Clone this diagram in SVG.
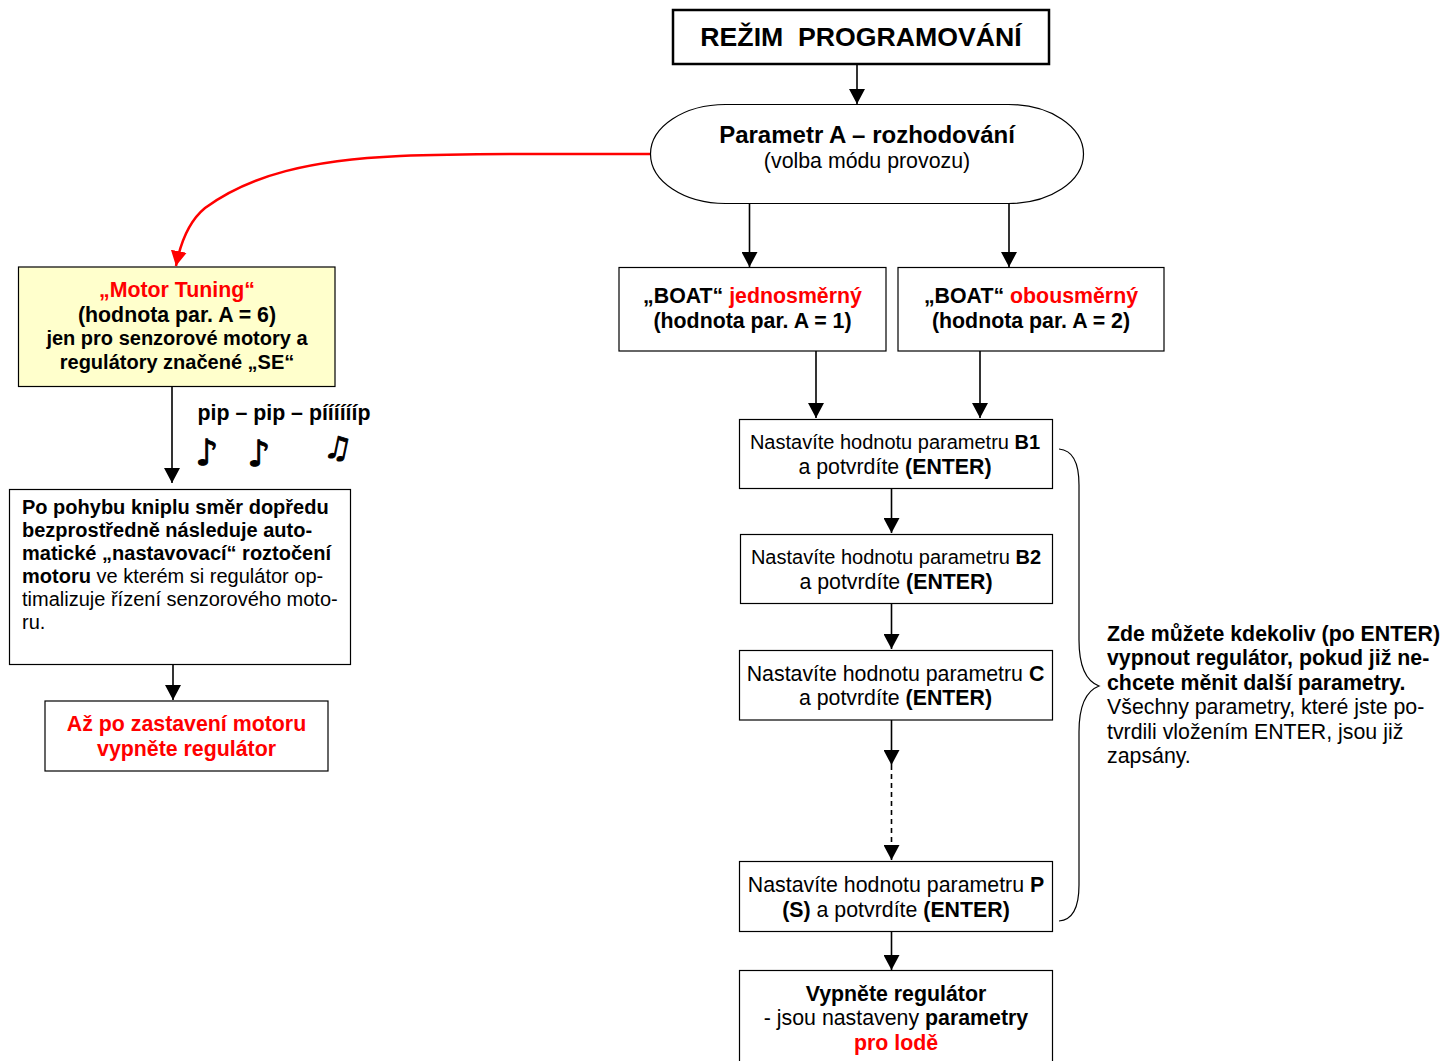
<svg xmlns="http://www.w3.org/2000/svg" width="1442" height="1061" viewBox="0 0 1442 1061">
<style>
text{font-family:"Liberation Sans",Arial,sans-serif;font-size:21.330px;fill:#000;text-anchor:middle}
.s{font-size:20px}
.l{text-anchor:start}
.b{font-weight:bold}
.r{fill:#f00}
.n{font-family:"DejaVu Sans",sans-serif;font-size:36px;stroke:#000;stroke-width:1}
.box{fill:#fff;stroke:#000;stroke-width:1.200}
.c{fill:none;stroke:#000;stroke-width:1.600}
</style>
<defs>
<marker id="a" markerUnits="userSpaceOnUse" markerWidth="16" markerHeight="16" refX="15" refY="8" orient="auto"><path d="M0,0L15,8L0,16Z" fill="#000"/></marker>
<marker id="ar" markerUnits="userSpaceOnUse" markerWidth="16" markerHeight="16" refX="15" refY="8" orient="auto"><path d="M0,0L15,8L0,16Z" fill="#f00"/></marker>
</defs>
<g id="connectors">
<path class="c" d="M857,65V104" marker-end="url(#a)"/>
<path class="c" d="M749.500,204V267" marker-end="url(#a)"/>
<path class="c" d="M1009,204V267" marker-end="url(#a)"/>
<path class="c" d="M816,351V418" marker-end="url(#a)"/>
<path class="c" d="M980,351V418" marker-end="url(#a)"/>
<path class="c" d="M891.500,489V533" marker-end="url(#a)"/>
<path class="c" d="M891.500,604V649" marker-end="url(#a)"/>
<path class="c" d="M891.500,720V765" marker-end="url(#a)"/>
<path class="c" d="M891.500,765V860" stroke-dasharray="5 4" marker-end="url(#a)"/>
<path class="c" d="M891.500,932V970" marker-end="url(#a)"/>
<path class="c" d="M172,387V483" marker-end="url(#a)"/>
<path class="c" d="M173,665V700" marker-end="url(#a)"/>
<path d="M650,154C560,154 480,153 400,156C310,160 250,175 205,208C188,222 180,245 176,266" fill="none" stroke="#f00" stroke-width="2.500" marker-end="url(#ar)"/>
<path d="M1059,449C1072,450 1079,462 1079,485V640C1079,665 1086,681 1099,686C1086,691 1079,707 1079,732V885C1079,908 1072,920 1059,921" fill="none" stroke="#000" stroke-width="1.200"/>
</g>
<g id="title"><rect x="673" y="10" width="376" height="54" class="box" style="stroke-width:2.500"/><text x="861" y="46" class="b" style="font-size:26.660px" xml:space="preserve">REŽIM  PROGRAMOVÁNÍ</text></g>
<g id="paramA"><rect x="650.500" y="104.500" width="433" height="99" rx="75" ry="49.500" class="box"/><text x="867" y="143" class="b" style="font-size:24px">Parametr A – rozhodování</text><text x="867" y="168">(volba módu provozu)</text></g>
<g id="boat1"><rect x="619" y="267.500" width="267" height="83.500" class="box"/><text x="752.500" y="303" class="b">„BOAT“ <tspan class="r">jednosměrný</tspan></text><text x="752.500" y="328" class="b">(hodnota par. A = 1)</text></g>
<g id="boat2"><rect x="898" y="267.500" width="266" height="83.500" class="box"/><text x="1031" y="303" class="b">„BOAT“ <tspan class="r">obousměrný</tspan></text><text x="1031" y="328" class="b">(hodnota par. A = 2)</text></g>
<g id="tuning"><rect x="18.500" y="267" width="316.500" height="119.500" style="fill:#ffffcc;stroke:#000;stroke-width:1.200"/><text x="177" y="297" class="b r">„Motor Tuning“</text><text x="177" y="322" class="b">(hodnota par. A = 6)</text><text x="177" y="345" class="b s">jen pro senzorové motory a</text><text x="177" y="369" class="b s">regulátory značené „SE“</text></g>
<g id="pip"><text x="284" y="420" class="b">pip – pip – pííííííp</text><text x="207" y="465" class="n">♪</text><text x="259" y="466" class="n">♪</text><text class="n" transform="translate(336 458) skewX(-12)" style="font-size:30px">♫</text></g>
<g id="knipl"><rect x="9.500" y="489.500" width="341" height="175" class="box"/>
<text class="l b s" x="22" y="514">Po pohybu kniplu směr dopředu</text>
<text class="l b s" x="22" y="537">bezprostředně následuje auto-</text>
<text class="l b s" x="22" y="560">matické „nastavovací“ roztočení</text>
<text class="l s" x="22" y="583"><tspan class="b">motoru</tspan> ve kterém si regulátor op-</text>
<text class="l s" x="22" y="606">timalizuje řízení senzorového moto-</text>
<text class="l s" x="22" y="629">ru.</text></g>
<g id="stop"><rect x="45" y="701" width="283" height="70" class="box"/><text x="186.500" y="731" class="b r">Až po zastavení motoru</text><text x="186.500" y="756" class="b r">vypněte regulátor</text></g>
<g id="b1"><rect x="739.500" y="419.500" width="313" height="69" class="box"/><text x="895" y="449" class="s">Nastavíte hodnotu parametru <tspan class="b">B1</tspan></text><text x="895" y="474">a potvrdíte <tspan class="b">(ENTER)</tspan></text></g>
<g id="b2"><rect x="740.500" y="534.500" width="312" height="69" class="box"/><text x="896" y="564" class="s">Nastavíte hodnotu parametru <tspan class="b">B2</tspan></text><text x="896" y="589">a potvrdíte <tspan class="b">(ENTER)</tspan></text></g>
<g id="c"><rect x="739.500" y="650.500" width="313" height="69.500" class="box"/><text x="895.500" y="681">Nastavíte hodnotu parametru <tspan class="b">C</tspan></text><text x="895.500" y="705">a potvrdíte <tspan class="b">(ENTER)</tspan></text></g>
<g id="p"><rect x="739.500" y="861.500" width="313" height="70" class="box"/><text x="896" y="892">Nastavíte hodnotu parametru <tspan class="b">P</tspan></text><text x="896" y="917"><tspan class="b">(S)</tspan> a potvrdíte <tspan class="b">(ENTER)</tspan></text></g>
<g id="end"><rect x="739.500" y="970.500" width="313" height="100" class="box"/><text x="896" y="1001" class="b">Vypněte regulátor</text><text x="896" y="1025">- jsou nastaveny <tspan class="b">parametry</tspan></text><text x="896" y="1050" class="b r">pro lodě</text></g>
<g id="note">
<text class="l b" x="1107" y="641">Zde můžete kdekoliv (po ENTER)</text>
<text class="l b" x="1107" y="665">vypnout regulátor, pokud již ne-</text>
<text class="l b" x="1107" y="690">chcete měnit další parametry.</text>
<text class="l" x="1107" y="714">Všechny parametry, které jste po-</text>
<text class="l" x="1107" y="739">tvrdili vložením ENTER, jsou již</text>
<text class="l" x="1107" y="763">zapsány.</text></g>
</svg>
